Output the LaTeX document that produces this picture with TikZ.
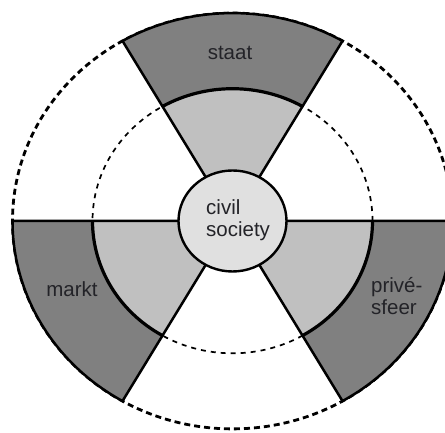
\documentclass[tikz,border=0pt]{standalone}
\usepackage{fontspec}
\setmainfont{Liberation Sans}
\usetikzlibrary{shapes.geometric}
\definecolor{sectordark}{RGB}{128,128,128}
\definecolor{sectorlight}{RGB}{192,192,192}
\definecolor{hubgrey}{RGB}{224,224,224}
\definecolor{labelink}{RGB}{35,35,40}

\begin{document}
\begin{tikzpicture}[x=1pt, y=1pt,
    outerring/.style={line width=2.8pt, dash pattern=on 6pt off 4pt},
    innerring/.style={line width=1.7pt, dash pattern=on 5pt off 5pt},
    edge/.style={line width=2.5pt, line join=miter},
    seam/.style={line width=3.2pt},
    sectorlabel/.style={font=\fontsize{20.5}{21.5}\selectfont, text=labelink, inner sep=0pt}]
    \useasboundingbox (0,0) rectangle (445,433);
    \clip (0,0) rectangle (445,433);

    \begin{scope}[shift={(232.5,212)}, yscale=0.945]
        % Dashed rings
        \draw[outerring] (0,0) circle (220);
        \draw[innerring] (0,0) circle (140);

        % Three sectors: light inner part, dark outer part
        \foreach \a in {60,180,300} {
            \fill[sectorlight] (\a:54) -- (\a:140) arc[start angle=\a, end angle=\a+60, radius=140]
                -- (\a+60:54) -- cycle;
            \fill[sectordark] (\a:140) -- (\a:220) arc[start angle=\a, end angle=\a+60, radius=220]
                -- (\a+60:140) arc[start angle=\a+60, end angle=\a, radius=140] -- cycle;
            \draw[edge] (\a:54) -- (\a:220) arc[start angle=\a, end angle=\a+60, radius=220]
                -- (\a+60:54);
            \draw[seam] (\a:140) arc[start angle=\a, end angle=\a+60, radius=140];
        }

        % Civil society hub
        \node[ellipse, draw, line width=2.4pt, fill=hubgrey, minimum width=108pt,
              minimum height=101pt, inner sep=0pt] (hub) at (0,0) {};
    \end{scope}

    \node[sectorlabel] (staat) at (230,380) {staat};
    \node[sectorlabel] (markt) at (72,144) {markt};
    \node[sectorlabel, anchor=west, align=left] (prive) at (371,137) {privé-\\sfeer};
    \node[sectorlabel, anchor=west, align=left] (civil) at (206,213) {civil\\society};
\end{tikzpicture}
\end{document}
